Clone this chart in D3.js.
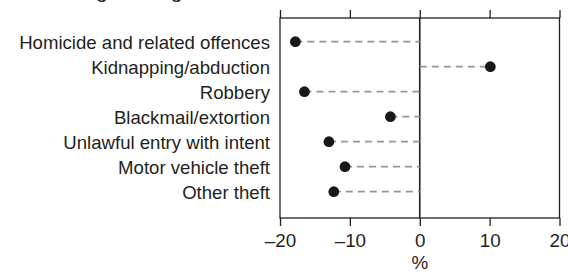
<!DOCTYPE html>
<html>
<head>
<meta charset="utf-8">
<script src="https://cdn.jsdelivr.net/npm/d3@7"></script>
<style>
  html, body { margin: 0; padding: 0; background: #fff; }
  svg { display: block; }
  text { font-family: "Liberation Sans", Arial, sans-serif; fill: #231f20; }
</style>
</head>
<body>
<svg id="chart" width="568" height="276"></svg>
<script>
const title = "Percentage change";
const categories = [
  "Homicide and related offences",
  "Kidnapping/abduction",
  "Robbery",
  "Blackmail/extortion",
  "Unlawful entry with intent",
  "Motor vehicle theft",
  "Other theft"
];
const values = [-17.8, 10.1, -16.5, -4.2, -13.0, -10.7, -12.3];
const xTicks = [-20, -10, 0, 10, 20];
const xLabel = "%";

const svg = d3.select("#chart");
const plot = { left: 280, right: 559.5, top: 18, bottom: 218 };
const ink = "#231f20";

const x = d3.scaleLinear().domain([-20, 20]).range([plot.left, plot.right]);
const y = d3.scalePoint().domain(categories).range([41.7, 191.7]);

// cropped title
svg.append("text")
  .attr("x", 12).attr("y", -2)
  .style("font-size", "21px")
  .text(title);

// frame
svg.append("rect")
  .attr("x", plot.left).attr("y", plot.top)
  .attr("width", plot.right - plot.left).attr("height", plot.bottom - plot.top)
  .attr("fill", "none").attr("stroke", ink).attr("stroke-width", 1.3);

// top axis (ticks only)
const topAxisG = svg.append("g").attr("transform", `translate(0,${plot.top})`)
  .call(d3.axisTop(x).tickValues(xTicks).tickSize(8).tickSizeOuter(0).tickFormat(""));
topAxisG.select(".domain").remove();
topAxisG.selectAll("line").attr("stroke", ink).attr("stroke-width", 1.3);

// bottom axis
const fmt = d => (d < 0 ? "\u2013" + Math.abs(d) : String(d));
const bottomAxisG = svg.append("g").attr("transform", `translate(0,${plot.bottom})`)
  .call(d3.axisBottom(x).tickValues(xTicks).tickSize(8).tickSizeOuter(0).tickFormat(fmt));
bottomAxisG.select(".domain").remove();
bottomAxisG.selectAll("line").attr("stroke", ink).attr("stroke-width", 1.3);
bottomAxisG.selectAll("text")
  .attr("y", 28.5).attr("dy", null)
  .style("font-size", "18.8px")
  .style("font-family", '"Liberation Sans", Arial, sans-serif')
  .attr("fill", ink);

// zero line
svg.append("line")
  .attr("x1", x(0)).attr("x2", x(0))
  .attr("y1", plot.top).attr("y2", plot.bottom)
  .attr("stroke", ink).attr("stroke-width", 1.6);

// x label
svg.append("text")
  .attr("x", x(0)).attr("y", 268.5)
  .attr("text-anchor", "middle")
  .style("font-size", "18.8px")
  .text(xLabel);

// category labels
svg.append("g").selectAll("text")
  .data(categories)
  .join("text")
  .attr("x", 270)
  .attr("y", d => y(d) + 6.8)
  .attr("text-anchor", "end")
  .style("font-size", "18.6px")
  .text(d => d);

// dashed connectors
const rows = categories.map((c, i) => ({ c, v: values[i] }));
svg.append("g").selectAll("line")
  .data(rows)
  .join("line")
  .attr("x1", d => x(Math.min(0, d.v)))
  .attr("x2", d => x(Math.max(0, d.v)))
  .attr("y1", d => y(d.c)).attr("y2", d => y(d.c))
  .attr("stroke", "#8c97a0")
  .attr("stroke-width", 1.7)
  .attr("stroke-dasharray", "7,5");

// dots
svg.append("g").selectAll("circle")
  .data(rows)
  .join("circle")
  .attr("cx", d => x(d.v))
  .attr("cy", d => y(d.c))
  .attr("r", 5.4)
  .attr("fill", "#1a1718");
</script>
</body>
</html>
